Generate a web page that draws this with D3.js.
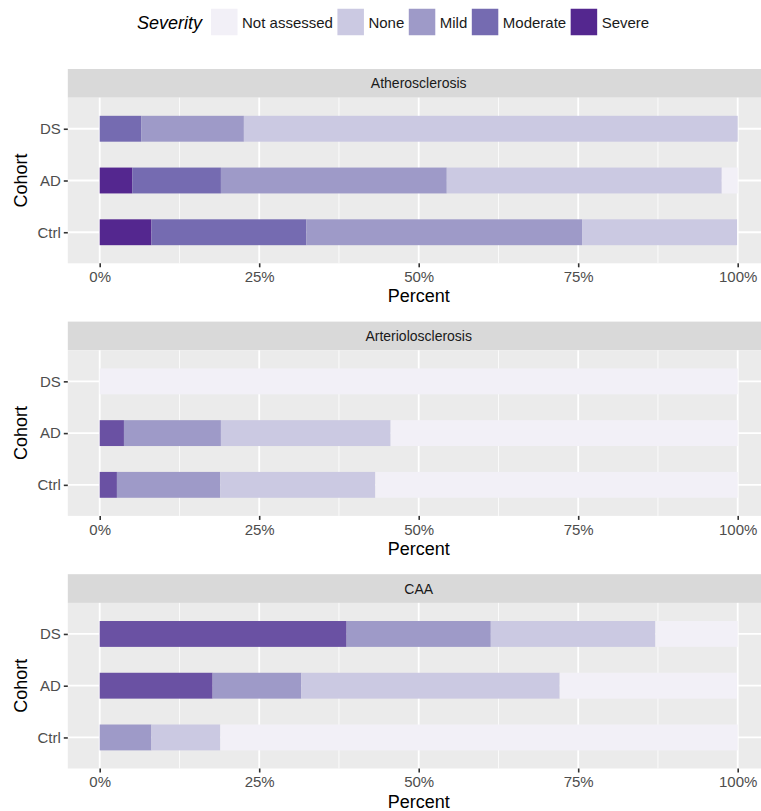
<!DOCTYPE html>
<html><head><meta charset="utf-8">
<script src="https://cdn.jsdelivr.net/npm/d3@7"></script>
<style>
html,body{margin:0;padding:0;background:#fff;}
svg{display:block;font-family:"Liberation Sans",Arial,sans-serif;}
</style></head>
<body><svg id="chart" width="761" height="811"></svg>
<script>
// ---- data ----
const panels = ["Atherosclerosis", "Arteriolosclerosis", "CAA"];
const cohorts = ["DS", "AD", "Ctrl"];
const severities = ["Severe", "Moderate", "Mild", "None", "Not assessed"]; // stacking order, left to right
const legendOrder = ["Not assessed", "None", "Mild", "Moderate", "Severe"];
const xTicks = [0, 25, 50, 75, 100];
const xMinor = [12.5, 37.5, 62.5, 87.5];

// percent per cohort (DS, AD, Ctrl) for each severity
const athero_Severe      = [0, 5.1, 8.1];
const athero_Moderate    = [6.5, 13.9, 24.3];
const athero_Mild        = [16.1, 35.4, 43.2];
const athero_None        = [77.4, 43.1, 24.3];
const athero_NotAssessed = [0, 2.5, 0];

const arterio_Severe      = [0, 0, 0];
const arterio_Moderate    = [0, 3.8, 2.7];
const arterio_Mild        = [0, 15.2, 16.2];
const arterio_None        = [0, 26.6, 24.3];
const arterio_NotAssessed = [100, 54.4, 56.8];

const caa_Severe      = [0, 0, 0];
const caa_Moderate    = [38.7, 17.7, 0];
const caa_Mild        = [22.6, 13.9, 8.1];
const caa_None        = [25.8, 40.5, 10.8];
const caa_NotAssessed = [12.9, 27.8, 81.1];

const panelData = [
  {Severe: athero_Severe, Moderate: athero_Moderate, Mild: athero_Mild, None: athero_None, "Not assessed": athero_NotAssessed},
  {Severe: arterio_Severe, Moderate: arterio_Moderate, Mild: arterio_Mild, None: arterio_None, "Not assessed": arterio_NotAssessed},
  {Severe: caa_Severe, Moderate: caa_Moderate, Mild: caa_Mild, None: caa_None, "Not assessed": caa_NotAssessed}
];

// ---- style ----
const colors = {"Not assessed": "#F2F0F7", "None": "#CBC9E2", "Mild": "#9E9AC8", "Moderate": "#756BB1", "Severe": "#54278F"};
const panelModerate = ["#756BB1", "#6A51A3", "#6A51A3"];

const svg = d3.select("#chart");
const plotLeft = 67.8, plotRight = 769.6;
const stripH = 28.7, panelH = 165.6, panelStep = 252.6, firstTop = 69;

const x = d3.scaleLinear().domain([0, 100]).range([99.7, 737.7]);

panels.forEach((pname, pi) => {
  const top = firstTop + pi * panelStep;
  const bgTop = top + stripH;
  const bgBot = bgTop + panelH;
  const g = svg.append("g");

  // strip
  g.append("rect").attr("x", plotLeft).attr("y", top).attr("width", plotRight - plotLeft).attr("height", stripH).attr("fill", "#D9D9D9");
  g.append("text").attr("x", (plotLeft + plotRight) / 2).attr("y", top + stripH / 2 + 5)
    .attr("text-anchor", "middle").attr("font-size", 14).attr("fill", "#1A1A1A").text(pname);

  // panel bg
  g.append("rect").attr("x", plotLeft).attr("y", bgTop).attr("width", plotRight - plotLeft).attr("height", panelH).attr("fill", "#EBEBEB");

  const y = d3.scalePoint().domain(cohorts).range([bgTop, bgBot]).padding(0.6);
  const bw = y.step() * 0.5;

  // grid
  g.selectAll(".minor").data(xMinor).enter().append("line")
    .attr("x1", d => x(d)).attr("x2", d => x(d)).attr("y1", bgTop).attr("y2", bgBot)
    .attr("stroke", "#fff").attr("stroke-width", 0.8);
  g.selectAll(".major").data(xTicks).enter().append("line")
    .attr("x1", d => x(d)).attr("x2", d => x(d)).attr("y1", bgTop).attr("y2", bgBot)
    .attr("stroke", "#fff").attr("stroke-width", 1.8);
  g.selectAll(".hmajor").data(cohorts).enter().append("line")
    .attr("x1", plotLeft).attr("x2", plotRight).attr("y1", d => y(d)).attr("y2", d => y(d))
    .attr("stroke", "#fff").attr("stroke-width", 1.8);

  // stacked bars
  const dat = panelData[pi];
  cohorts.forEach((c, ci) => {
    let cum = 0;
    severities.forEach(s => {
      const v = dat[s][ci];
      if (v > 0) {
        const col = s === "Moderate" ? panelModerate[pi] : colors[s];
        g.append("rect").attr("x", x(cum)).attr("y", y(c) - bw / 2)
          .attr("width", x(cum + v) - x(cum)).attr("height", bw).attr("fill", col);
      }
      cum += v;
    });
  });

  // x axis
  const xa = g.append("g").attr("transform", `translate(0,${bgBot})`)
    .call(d3.axisBottom(x).tickValues(xTicks).tickFormat(d => d + "%").tickSize(4).tickPadding(4));
  xa.select(".domain").remove();
  xa.selectAll(".tick line").attr("stroke", "#333").attr("stroke-width", 1.6);
  xa.selectAll(".tick text").attr("font-size", 15).attr("fill", "#4D4D4D").attr("font-family", "Liberation Sans, Arial, sans-serif");

  // y axis
  const ya = g.append("g").attr("transform", `translate(${plotLeft},0)`)
    .call(d3.axisLeft(y).tickSize(4).tickPadding(3));
  ya.select(".domain").remove();
  ya.selectAll(".tick line").attr("stroke", "#333").attr("stroke-width", 1.6);
  ya.selectAll(".tick text").attr("font-size", 15).attr("fill", "#4D4D4D").attr("font-family", "Liberation Sans, Arial, sans-serif");

  // titles
  g.append("text").attr("x", (plotLeft + plotRight) / 2).attr("y", bgBot + 39)
    .attr("text-anchor", "middle").attr("font-size", 18).attr("fill", "#000").text("Percent");
  g.append("text").attr("transform", `translate(27,${(bgTop + bgBot) / 2}) rotate(-90)`)
    .attr("text-anchor", "middle").attr("font-size", 18).attr("fill", "#000").text("Cohort");
});

// legend
const lg = svg.append("g");
let lx = 137;
const ly = 22, key = 26.5;
const title = lg.append("text").attr("x", lx).attr("y", ly + 6.5).attr("font-size", 18).attr("font-style", "italic").text("Severity");
lx += title.node().getComputedTextLength() + 9;
legendOrder.forEach(s => {
  lg.append("rect").attr("x", lx).attr("y", ly - key / 2).attr("width", key).attr("height", key).attr("fill", colors[s]);
  lx += key + 4.5;
  const t = lg.append("text").attr("x", lx).attr("y", ly + 5.5).attr("font-size", 15).attr("fill", "#1A1A1A").text(s);
  lx += t.node().getComputedTextLength() + 4.5;
});
</script></body></html>
